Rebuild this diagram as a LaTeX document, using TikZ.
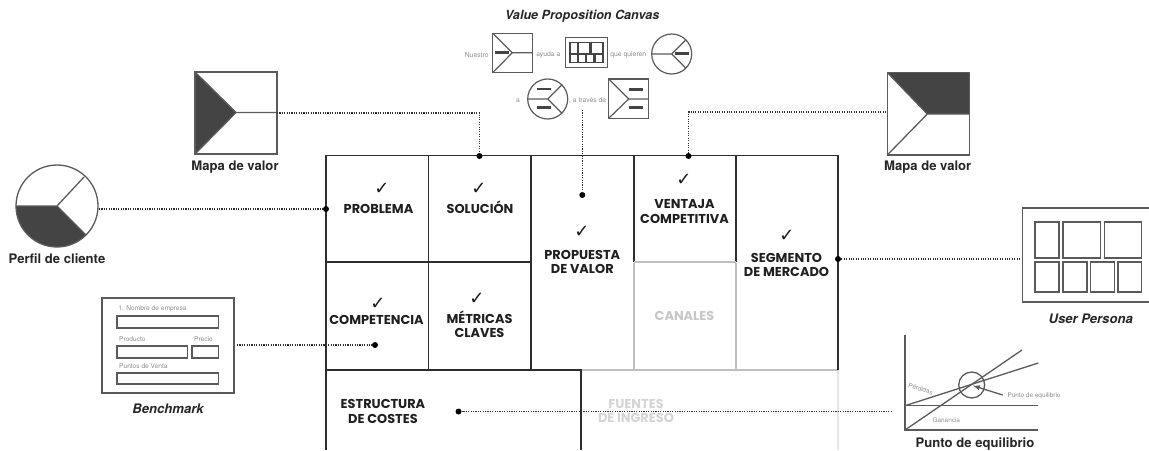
\documentclass[tikz,border=0pt]{standalone}
\usepackage{fontspec}
\setmainfont{TeX Gyre Heros}
\newfontfamily\gridfont{Poppins}
\newfontfamily\checkfont{DejaVu Sans}
\definecolor{ink}{HTML}{2E2E2E}
\definecolor{iconline}{HTML}{5A5A5A}
\definecolor{iconfill}{HTML}{444444}
\definecolor{smalltxt}{HTML}{8C8C8C}
\tikzset{
  gridline/.style={draw=ink,line width=1.6pt},
  fadeline/.style={draw=black!25,line width=1.5pt},
  palerule/.style={draw=black!10,line width=1.3pt},
  icon/.style={draw=iconline,line width=1.3pt},
  iconsmall/.style={draw=iconline,line width=1.2pt},
  bar/.style={draw=iconfill,line width=2.6pt},
  dotline/.style={draw=ink,line width=1.2pt,dash pattern=on 1.1pt off 1.3pt},
  blob/.style={circle,fill=black,inner sep=0pt,minimum size=6pt},
  cell/.style={font=\gridfont\bfseries\fontsize{12.9}{14.4}\selectfont,text=black!88,align=center,inner sep=0pt},
  tick/.style={font=\checkfont\bfseries\fontsize{18}{18}\selectfont,text=black!90,inner sep=0pt},
  lab/.style={font=\bfseries\fontsize{13.1}{15}\selectfont,text=black!85,inner sep=0pt},
  ilab/.style={font=\bfseries\itshape\fontsize{13.1}{15}\selectfont,text=black!85,inner sep=0pt},
  tiny/.style={font=\fontsize{6.8}{8}\selectfont,text=smalltxt,inner sep=0pt},
  formtxt/.style={font=\fontsize{6.6}{8}\selectfont,text=smalltxt,inner sep=0pt,anchor=west},
}
\begin{document}
\begin{tikzpicture}[x=1pt,y=-1pt]
\useasboundingbox (0,0) rectangle (1149,450);
% --- canvas grid: pale parts first
\draw[palerule] (838,370) -- (838,450);
\draw[palerule] (581,370) -- (838,370);
\draw[fadeline] (634,263) -- (634,370);
\draw[fadeline] (736,263) -- (736,370);
\draw[fadeline] (531,370) -- (838,370);
\draw[gridline] (326,450) -- (326,155.5) -- (838,155.5) -- (838,370);
\draw[gridline] (428.5,155.5) -- (428.5,370);
\draw[gridline] (531,155.5) -- (531,370);
\draw[gridline] (634,155.5) -- (634,262);
\draw[gridline] (736,155.5) -- (736,262);
\draw[gridline] (326,262) -- (531,262);
\draw[fadeline] (634,262) -- (736,262);
\draw[gridline] (326,370) -- (531,370);
\draw[gridline] (531,370) -- (581,370) -- (581,450);
% --- cell labels
\node[tick] (c1) at (382,189) {✓};
\node[cell] (problema) at (378.5,209) {PROBLEMA};
\node[tick] (c2) at (479,189) {✓};
\node[cell] (solucion) at (480,207) {SOLUCIÓN};
\node[tick] (c3) at (582,232) {✓};
\node[cell] (propuesta) at (582.3,262) {PROPUESTA\\DE VALOR};
\node[tick] (c4) at (684,180) {✓};
\node[cell] (ventaja) at (684.5,211.5) {VENTAJA\\COMPETITIVA};
\node[tick] (c5) at (787,236) {✓};
\node[cell] (segmento) at (786.5,265) {SEGMENTO\\DE MERCADO};
\node[tick] (c6) at (378,304) {✓};
\node[cell] (competencia) at (376.5,319.5) {COMPETENCIA};
\node[tick] (c7) at (477,299) {✓};
\node[cell] (metricas) at (479.5,324) {MÉTRICAS\\CLAVES};
\node[cell,text=black!22] (canales) at (684.5,316) {CANALES};
\node[cell] (estructura) at (383,411.5) {ESTRUCTURA\\DE COSTES};
\node[cell,text=black!17] (fuentes) at (636,411) {FUENTES\\DE INGRESO};
% --- anchor points of connectors
\node[blob] (dperfil) at (326,209) {};
\node[blob] (dsol) at (479.5,156) {};
\node[blob] (dvpc) at (582.3,195) {};
\node[blob] (dvent) at (688.5,156) {};
\node[blob] (dseg) at (838,259) {};
\node[blob] (dcomp) at (375,345) {};
\node[blob] (dcost) at (458.5,411.5) {};
% --- Mapa de valor (left)
\fill[iconfill] (195,72) -- (236,112.5) -- (195,154) -- cycle;
\draw[icon] (195,72) rectangle (277,154);
\draw[icon] (195,72) -- (236,112.5) -- (195,154) (236,112.5) -- (277,112.5);
\coordinate (mapaL) at (277,113);
\node[lab] (lmapaL) at (235,167) {Mapa de valor};
% --- Perfil de cliente
\begin{scope}
\clip (57,206) circle[radius=41];
\fill[iconfill] (57,206) -- (10,206) -- (10,260) -- (111,260) -- cycle;
\end{scope}
\draw[icon] (57,206) circle[radius=41];
\draw[icon] (16,206) -- (57,206) -- (86,235) (57,206) -- (84,177);
\coordinate (perfilR) at (99,209);
\node[lab] (lperfil) at (57,259) {Perfil de cliente};
% --- Mapa de valor (right)
\fill[iconfill] (887.3,72.5) -- (969.3,72.5) -- (969.3,114) -- (927.3,114) -- cycle;
\draw[icon] (887.3,72.5) rectangle (969.3,155);
\draw[icon] (887.3,72.5) -- (927.3,114) -- (887.3,155) (927.3,114) -- (969.3,114);
\coordinate (mapaR) at (886,112);
\coordinate (bendR) at (dvent |- mapaR);
\node[lab] (lmapaR) at (927.7,167) {Mapa de valor};
% --- User Persona
\draw[icon] (1150,208) -- (1022.7,208) -- (1022.7,302) -- (1150,302);
\foreach \a/\b/\c/\d in {1035/222/1059/258,1063/222/1100.7/258,1104.3/222/1141.7/258,
  1035/262/1059/292,1063/262/1087/292,1090.7/262/1114.3/292,1118/262/1141.7/292}
  \draw[icon] (\a,\b) rectangle (\c,\d);
\coordinate (personaL) at (1020,259);
\node[ilab] (lpersona) at (1090.7,319) {User Persona};
% --- Benchmark
\draw[icon] (102,298) rectangle (234,393);
\draw[icon] (117,316) rectangle (218.7,328);
\draw[icon] (117,346) rectangle (187.7,358);
\draw[icon] (192,346) rectangle (218.7,358);
\draw[icon] (117,373) rectangle (218.7,384);
\node[formtxt] (f1) at (118.3,309) {1. Nombre de empresa};
\node[formtxt] (f2) at (119,339) {Producto};
\node[formtxt] (f3) at (194,339) {Precio};
\node[formtxt] (f4) at (119,366) {Puntos de Venta};
\coordinate (benchR) at (237,345);
\node[ilab] (lbench) at (168,409) {Benchmark};
% --- Punto de equilibrio
\draw[icon] (905,335) -- (905,430) -- (1038,430);
\draw[icon] (905,405.7) -- (1038,405.7);
\draw[icon] (905,430) -- (1022,350);
\draw[icon] (905,405.7) -- (1038.3,363);
\draw[icon] (971.7,385) circle[radius=13];
\draw[icon,-latex] (1002.7,395) -- (973,385.7);
\node[tiny,font=\fontsize{6.4}{8}\selectfont] (tpunto) at (1034,396) {Punto de equilibrio};
\node[tiny,font=\fontsize{6.4}{8}\selectfont,rotate=-18] (tperd) at (920.7,389) {Pérdidas};
\node[tiny,font=\fontsize{6.4}{8}\selectfont] (tgan) at (946.3,420) {Ganancia};
\coordinate (puntoL) at (891.7,411.5);
\node[lab] (lpunto) at (975,444) {Punto de equilibrio};
% --- Value Proposition Canvas
\node[ilab,font=\bfseries\itshape\fontsize{12.6}{15}\selectfont] (lvpc) at (582.3,16) {Value Proposition Canvas};
\node[tiny] (t1) at (476.7,55) {Nuestro};
\draw[iconsmall] (492.7,33.3) rectangle (532.7,72.7);
\draw[iconsmall] (492.7,33.3) -- (512.3,52.7) -- (492.7,72.7) (512.3,52.7) -- (532.7,52.7);
\draw[bar] (495,52.7) -- (508.5,52.7);
\node[tiny] (t2) at (548.3,55) {ayuda a};
\fill[iconfill] (569.3,41.7) rectangle (604,63.3);
\foreach \a/\b/\c/\d in {570.7/42.7/576.7/52.7,579.3/42.7/589.3/52.7,591.7/42.7/602.3/52.7,
  570.7/55/576.7/62.3,579.3/55/584.7/62.3,587.3/55/593.3/62.3,596/55/602.3/62.3}
  \fill[white] (\a,\b) rectangle (\c,\d);
\draw[iconsmall] (565.7,37.3) rectangle (607.3,67.3);
\node[tiny] (t3) at (628.3,55) {que quieren};
\draw[iconsmall] (671.7,54) circle[radius=20];
\draw[iconsmall] (651.7,54) -- (671.7,54) -- (685.8,39.9) (671.7,54) -- (685.8,68.1);
\draw[bar] (675,53.7) -- (689.3,53.7);
\node[tiny] (t4) at (518,101) {a};
\draw[iconsmall] (547.7,99) circle[radius=20];
\draw[iconsmall] (527.7,99) -- (547.7,99) -- (561.8,84.9) (547.7,99) -- (561.8,113.1);
\draw[bar] (536.7,89) -- (550.7,89);
\draw[bar] (536.7,107.3) -- (550.7,107.3);
\node[tiny] (t5) at (587.7,101) {, a través de};
\draw[iconsmall] (608.7,79) rectangle (648.7,118.3);
\draw[iconsmall] (608.7,79) -- (628.7,99) -- (608.7,118.3) (628.7,99) -- (648.7,99);
\draw[bar] (628.7,89.3) -- (643.3,89.3);
\draw[bar] (628.7,107.7) -- (643.3,107.7);
\coordinate (vpcB) at (582.3,110);
% --- dotted connectors
\draw[dotline] (perfilR) -- (dperfil);
\draw[dotline] (mapaL) -| (dsol);
\draw[dotline] (vpcB) -- (dvpc);
\draw[dotline] (mapaR) -- (bendR) -- (dvent);
\draw[dotline] (personaL) -- (dseg);
\draw[dotline] (benchR) -- (dcomp);
\draw[dotline] (puntoL) -- (dcost);
\end{tikzpicture}
\end{document}
